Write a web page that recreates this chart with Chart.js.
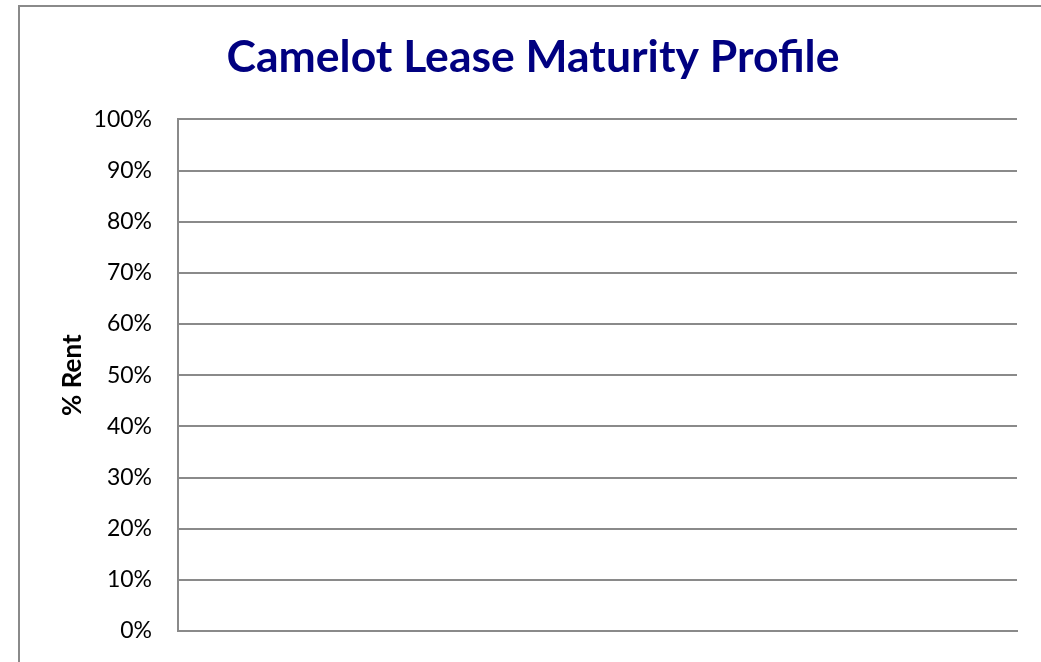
<!DOCTYPE html>
<html>
<head>
<meta charset="utf-8">
<script src="https://cdn.jsdelivr.net/npm/chart.js@4"></script>
<style>
  html, body { margin: 0; padding: 0; background: #fff; overflow: hidden; }
  #frame { position: absolute; left: 18px; top: 5px; width: 1100px; height: 700px;
           border: 2px solid #8a8a8a; box-sizing: border-box; }
  #wrap { position: absolute; left: 0; top: 0; width: 1041px; height: 662px; }
</style>
</head>
<body>
<div id="frame"></div>
<div id="wrap"><canvas id="c" width="1041" height="662"></canvas></div>
<script>
// Data (the reference chart shows no bars or categories)
const categories = [];
const rentShare = [];
const yTickValues = [0, 0.1, 0.2, 0.3, 0.4, 0.5, 0.6, 0.7, 0.8, 0.9, 1.0];
const chartTitle = 'Camelot Lease Maturity Profile';
const yTitle = '% Rent';

const FONT = 'Lato, "Open Sans", sans-serif';
const GRID = '#8a8a8a';

new Chart(document.getElementById('c'), {
  type: 'bar',
  data: {
    labels: categories,
    datasets: [{ label: 'Rent', data: rentShare, backgroundColor: '#000080' }]
  },
  options: {
    responsive: false,
    animation: false,
    maintainAspectRatio: false,
    layout: { padding: { left: 49, right: 24, top: 0, bottom: 31 } },
    plugins: {
      legend: { display: false },
      tooltip: { enabled: false },
      title: {
        display: true,
        text: chartTitle,
        color: '#000080',
        font: { family: FONT, size: 44.5, weight: 'bold' },
        padding: { top: 31, bottom: 35 }
      }
    },
    scales: {
      x: {
        grid: { display: false, drawTicks: false },
        border: { display: true, color: GRID, width: 2 },
        ticks: { display: false, padding: 0 },
        afterFit: (s) => { s.height = 0; s.paddingBottom = 0; s.paddingTop = 0; }
      },
      y: {
        min: 0,
        max: 1,
        afterBuildTicks: (s) => { s.ticks = yTickValues.map(v => ({ value: v })); },
        afterFit: (s) => { s.width = 129; s.paddingBottom = 0; s.paddingTop = 0; },
        grid: { color: GRID, lineWidth: 2, drawTicks: false },
        border: { display: true, color: GRID, width: 2 },
        ticks: {
          color: '#000',
          padding: 26,
          font: { family: FONT, size: 23 },
          callback: (v) => Math.round(v * 100) + '%'
        },
        title: {
          display: true,
          text: yTitle,
          color: '#000',
          font: { family: FONT, size: 26, weight: 'bold' },
          padding: { top: 8, bottom: 0 }
        }
      }
    }
  }
});
</script>
</body>
</html>
